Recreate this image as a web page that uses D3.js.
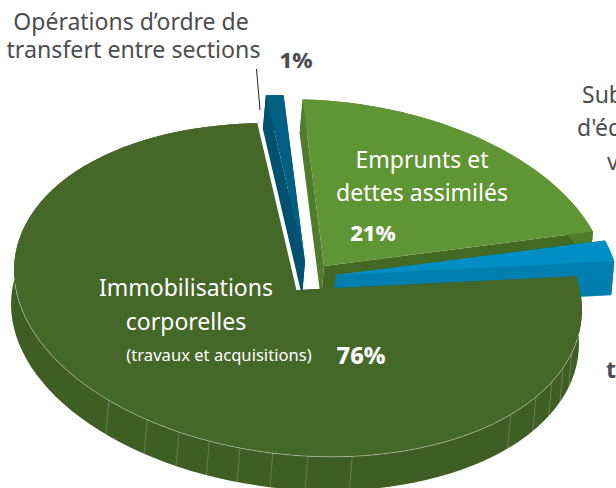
<!DOCTYPE html>
<html><head><meta charset="utf-8">
<script src="https://cdn.jsdelivr.net/npm/d3@7"></script>
<style>html,body{margin:0;padding:0;background:#fff;overflow:hidden}svg{display:block;font-family:"Noto Sans",sans-serif}</style>
</head><body>
<svg id="c" width="616" height="488"></svg>
<script>
const categories = ["Immobilisations corporelles","Opérations d’ordre de transfert entre sections","Emprunts et dettes assimilés","Subventions d'équipement versées"];
const values = [76,1,21,2];
const topColors = ["#456829","#005f83","#609534","#008fc4"];
const leftSideColors = ["#3f5e23","#00506f","#436a25","#007fae"];
const frontSideColors = ["#3f5e23","#00506f","#4f7d2b","#007fae"];
const explodeX = [2,9,28,40];
const explodeY = [0,-28,-24,-15];
const drawOrder = [2,1,3,0];
const seamAngles = [218.3,208.6,201.3,194.7,188.3,181.6,174.5,165.5,128,119.6,113.2,107.6,102];

const cx=296, cy=290, rx=285, ry=165, tilt=6*Math.PI/180, depthX=-3, depthY=34;
const startDeg=75;
const svg=d3.select("#c");
const pie=d3.pie().sort(null).value(d=>d).startAngle(startDeg*Math.PI/180).endAngle((startDeg+360)*Math.PI/180);
const arcs=pie(values);
function project(a,r=1){const x=rx*r*Math.sin(a),y=-ry*r*Math.cos(a);
  return [cx+x*Math.cos(tilt)-y*Math.sin(tilt), cy+x*Math.sin(tilt)+y*Math.cos(tilt)];}
const line=d3.line();
function sampled(a0,a1){return d3.range(0,101).map(i=>a0+(a1-a0)*i/100);}
drawOrder.forEach(i=>{
  const d=arcs[i], ox=explodeX[i], oy=explodeY[i];
  const g=svg.append("g").attr("transform",`translate(${ox},${oy})`);
  const apex=project(0,0), rim=sampled(d.startAngle,d.endAngle).map(a=>project(a));
  const down=p=>[p[0]+depthX,p[1]+depthY];
  g.append("path").attr("d",line([apex,rim[rim.length-1],down(rim[rim.length-1]),down(apex)])+"Z").attr("fill",leftSideColors[i]);
  g.append("path").attr("d",line([apex,rim[0],down(rim[0]),down(apex)])+"Z").attr("fill",frontSideColors[i]);
  g.append("path").attr("d",line(rim.concat(rim.map(down).reverse()))+"Z").attr("fill",frontSideColors[i]);
  g.append("path").attr("d",line([apex].concat(rim))+"Z").attr("fill",topColors[i]);
  if(i===0){
    g.append("path").attr("d",line([apex,rim[rim.length-1]])).attr("stroke","#fff").attr("stroke-width",3).attr("fill","none");
  }
});
const seam=svg.append("g").attr("stroke","#fff").attr("fill","none").attr("transform",`translate(${explodeX[0]},${explodeY[0]})`);
const dRad=a=>a*Math.PI/180;
seam.append("path").attr("d",line(sampled(dRad(97),dRad(262)).map(a=>project(a)))).attr("stroke-opacity",.5).attr("stroke-width",.7);
seamAngles.forEach(a=>{const p=project(dRad(a));
  seam.append("line").attr("x1",p[0]).attr("y1",p[1]).attr("x2",p[0]+depthX).attr("y2",p[1]+depthY).attr("stroke-opacity",.3).attr("stroke-width",.7);});
svg.append("line").attr("x1",256.5).attr("y1",69).attr("x2",260).attr("y2",110).attr("stroke","#222").attr("stroke-width",1);
const T=(s,x,y,size,fill,weight,anchor)=>svg.append("text").text(s).attr("x",x).attr("y",y).attr("font-size",size).attr("fill",fill).attr("font-weight",weight||400).attr("text-anchor",anchor||"middle");
const grey="#4d4d4f";
T("Opérations d’ordre de",131,30,23,grey);
T("transfert entre sections",133.5,58,23.2,grey);
T("1%",296,68,22,grey,800);
T("Emprunts et",422,168,23,"#fff");
T("dettes assimilés",422,201,23,"#fff");
T("21%",373,241,22,"#fff",800);
T("Immobilisations",186,296,23,"#fff");
T("corporelles",186,330,23,"#fff");
T("(travaux et acquisitions)",219,361,16.6,"#fff");
T("76%",361,364,23.5,"#fff",800);
T("Subventions",582,103,23,grey,400,"start");
T("d'équipement",577,136,23,grey,400,"start");
T("versées",607,170,23,grey,400,"start");
T("transferts",606,378,23,grey,700,"start");
</script>
</body></html>
